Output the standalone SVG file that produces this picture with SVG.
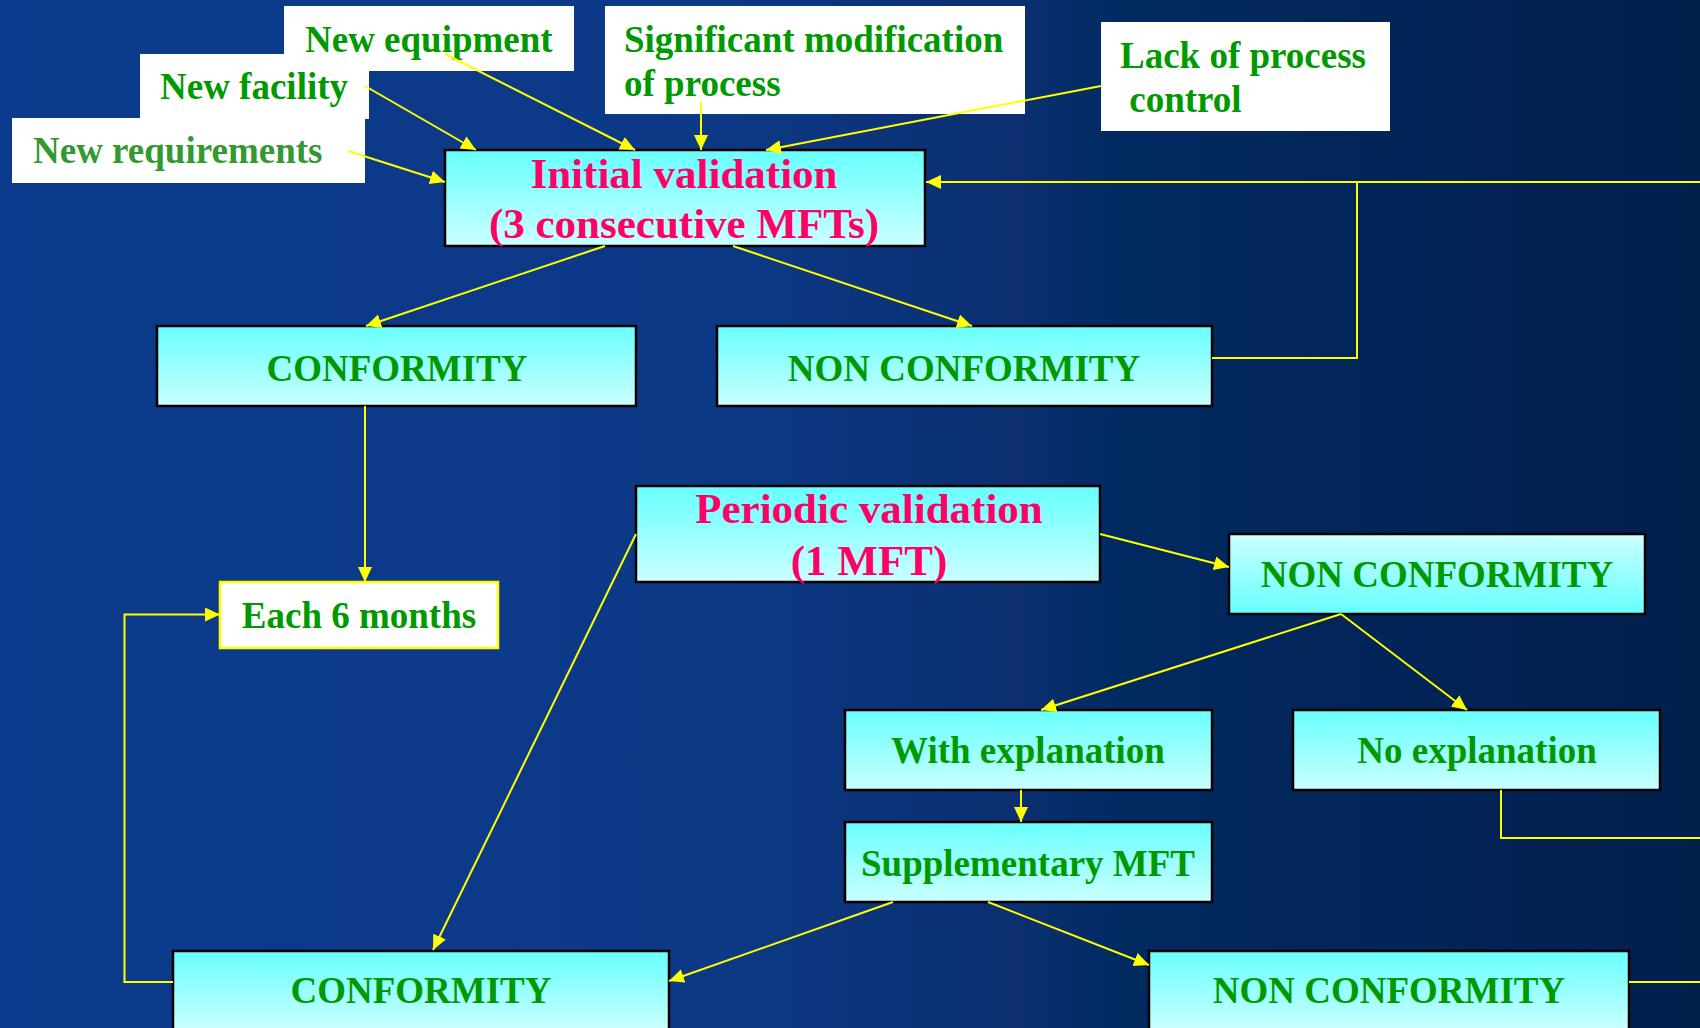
<svg xmlns="http://www.w3.org/2000/svg" width="1700" height="1028" viewBox="0 0 1700 1028">
<defs>
<linearGradient id="bg" x1="0" y1="0" x2="1" y2="0">
<stop offset="0" stop-color="#0c3b8d"/>
<stop offset="0.42" stop-color="#0c3986"/>
<stop offset="0.6" stop-color="#0b2f70"/>
<stop offset="0.66" stop-color="#012a61"/>
<stop offset="1" stop-color="#021f4c"/>
</linearGradient>
<linearGradient id="cyan" x1="0" y1="0" x2="0" y2="1">
<stop offset="0" stop-color="#66ffff"/>
<stop offset="1" stop-color="#ccffff"/>
</linearGradient>
<linearGradient id="cyanInv" x1="0" y1="0" x2="0" y2="1">
<stop offset="0" stop-color="#ccffff"/>
<stop offset="1" stop-color="#66ffff"/>
</linearGradient>
<marker id="arr" markerUnits="userSpaceOnUse" markerWidth="16" markerHeight="16" refX="15" refY="7" orient="auto">
<path d="M0,0 L15,7 L0,14 z" fill="#ffff00"/>
</marker>
<style>
.lbl{fill:#ffffff}
.box{fill:url(#cyan);stroke:#000;stroke-width:2.5}
.boxi{fill:url(#cyanInv);stroke:#000;stroke-width:2.5}
.t{font-family:"Liberation Serif","Times New Roman",serif;font-weight:bold;font-size:37px;fill:#009900}
.tp{font-family:"Liberation Serif","Times New Roman",serif;font-weight:bold;font-size:43px;fill:#ff0066}
.c{text-anchor:middle}
.ln{fill:none;stroke:#ffff00;stroke-width:2}
.la{fill:none;stroke:#ffff00;stroke-width:2;marker-end:url(#arr)}
</style>
</defs>
<rect x="0" y="0" width="1700" height="1028" fill="url(#bg)"/>

<g id="new-equipment">
<rect class="lbl" x="284" y="6" width="290" height="65"/>
<text class="t" x="305" y="52">New equipment</text>
</g>
<g id="new-facility">
<rect class="lbl" x="140" y="54" width="229" height="65"/>
<text class="t" x="160" y="99">New facility</text>
</g>
<g id="new-requirements">
<rect class="lbl" x="12" y="118" width="353" height="65"/>
<text class="t" x="33" y="163" style="fill:#339933">New requirements</text>
</g>
<g id="significant-modification">
<rect class="lbl" x="605" y="6" width="420" height="108"/>
<text class="t" x="624" y="52">Significant modification</text>
<text class="t" x="624" y="96">of process</text>
</g>
<g id="lack-of-process-control">
<rect class="lbl" x="1101" y="22" width="289" height="109"/>
<text class="t" x="1120" y="68">Lack of process</text>
<text class="t" x="1120" y="112" xml:space="preserve"> control</text>
</g>
<g id="initial-validation">
<rect class="box" x="445" y="150" width="480" height="96"/>
<text class="tp c" x="684" y="188">Initial validation</text>
<text class="tp c" x="684" y="238">(3 consecutive MFTs)</text>
</g>
<g id="conformity-1">
<rect class="box" x="157" y="326" width="479" height="80"/>
<text class="t c" x="397" y="381">CONFORMITY</text>
</g>
<g id="non-conformity-1">
<rect class="box" x="717" y="326" width="495" height="80"/>
<text class="t c" x="964" y="381">NON CONFORMITY</text>
</g>
<g id="each-6-months">
<rect x="220" y="582" width="278" height="66" fill="#ffffff" stroke="#ffff00" stroke-width="2.5"/>
<text class="t c" x="359" y="628">Each 6 months</text>
</g>
<g id="periodic-validation">
<rect class="box" x="636" y="486" width="464" height="96"/>
<text class="tp c" x="869" y="523">Periodic validation</text>
<text class="tp c" x="869" y="575">(1 MFT)</text>
</g>
<g id="non-conformity-2">
<rect class="boxi" x="1229" y="534" width="416" height="80"/>
<text class="t c" x="1437" y="587">NON CONFORMITY</text>
</g>
<g id="with-explanation">
<rect class="box" x="845" y="710" width="367" height="80"/>
<text class="t c" x="1028" y="763">With explanation</text>
</g>
<g id="no-explanation">
<rect class="box" x="1293" y="710" width="367" height="80"/>
<text class="t c" x="1477" y="763">No explanation</text>
</g>
<g id="supplementary-mft">
<rect class="box" x="845" y="822" width="367" height="80"/>
<text class="t c" x="1028" y="876">Supplementary MFT</text>
</g>
<g id="conformity-2">
<rect class="box" x="173" y="951" width="496" height="80"/>
<text class="t c" x="421" y="1003">CONFORMITY</text>
</g>
<g id="non-conformity-3">
<rect class="box" x="1149" y="951" width="480" height="80"/>
<text class="t c" x="1389" y="1003">NON CONFORMITY</text>
</g>

<g id="connectors">
<line class="la" x1="445" y1="54" x2="635" y2="150"/>
<line class="la" x1="365" y1="86" x2="476" y2="150"/>
<line class="la" x1="348" y1="151" x2="445" y2="182"/>
<line class="la" x1="701" y1="102" x2="701" y2="150"/>
<line class="la" x1="1101" y1="86" x2="766" y2="150"/>
<polyline class="la" points="1212,358 1357,358 1357,182 926,182"/>
<line class="ln" x1="1700" y1="182" x2="1357" y2="182"/>
<line class="la" x1="605" y1="246" x2="366" y2="326"/>
<line class="la" x1="733" y1="246" x2="972" y2="326"/>
<line class="la" x1="365" y1="406" x2="365" y2="582"/>
<line class="la" x1="636" y1="534" x2="433" y2="950"/>
<line class="la" x1="1100" y1="534" x2="1229" y2="567"/>
<line class="la" x1="1341" y1="614" x2="1041" y2="710"/>
<line class="la" x1="1341" y1="614" x2="1467" y2="710"/>
<line class="la" x1="1021" y1="790" x2="1021" y2="822"/>
<line class="la" x1="893" y1="902" x2="669" y2="981"/>
<line class="la" x1="988" y1="902" x2="1149" y2="965"/>
<polyline class="ln" points="1501,790 1501,838 1700,838"/>
<line class="ln" x1="1629" y1="982" x2="1700" y2="982"/>
<polyline class="la" points="173,982 124.5,982 124.5,614.5 220,614.5"/>
</g>
</svg>
